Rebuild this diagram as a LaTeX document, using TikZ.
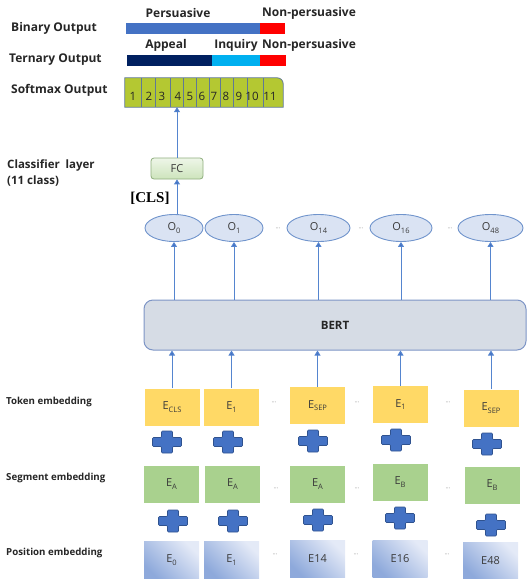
\documentclass[tikz,border=0pt]{standalone}
\usepackage{fontspec}
\setmainfont{Open Sans}
\newfontfamily\clsfont{Liberation Serif}
\usetikzlibrary{arrows.meta,shapes.geometric}

\definecolor{txt}{HTML}{262626}
\definecolor{boxtxt}{HTML}{3A3A3A}
\definecolor{barblue}{HTML}{4472C4}
\definecolor{barred}{HTML}{FF0000}
\definecolor{barnavy}{HTML}{002060}
\definecolor{barsky}{HTML}{00B0F0}
\definecolor{smfill}{HTML}{B4C832}
\definecolor{smline}{HTML}{5F7896}
\definecolor{arrowc}{HTML}{5585CF}
\definecolor{fctop}{HTML}{EEF6E8}
\definecolor{fcbot}{HTML}{CDE4BC}
\definecolor{fcline}{HTML}{8FAE7D}
\definecolor{ofill}{HTML}{DAE3F3}
\definecolor{oline}{HTML}{7094CC}
\definecolor{bertfill}{HTML}{D6DCE5}
\definecolor{bertline}{HTML}{7D95C6}
\definecolor{tokfill}{HTML}{FFD966}
\definecolor{segfill}{HTML}{A9D18E}
\definecolor{posdark}{HTML}{8EA9DB}
\definecolor{poslight}{HTML}{E4EAF7}
\definecolor{plusfill}{HTML}{4472C4}
\definecolor{plusline}{HTML}{2F528F}

\newcommand\lowsub[1]{\raisebox{-0.4ex}{\fontsize{7.5}{7.5}\selectfont #1}}

\tikzset{
  lbl/.style={anchor=west, inner sep=0pt, text=txt, font=\bfseries\fontsize{9.7}{11}\selectfont, align=left},
  biglbl/.style={anchor=west, inner sep=0pt, text=txt, font=\bfseries\fontsize{12}{16}\selectfont, align=left},
  toplbl/.style={inner sep=0pt, text=txt, font=\bfseries\fontsize{12}{14}\selectfont},
  arr/.style={draw=arrowc, line width=0.9pt, -{Triangle[width=6pt,length=5pt,fill=barblue]}},
  emb/.style={minimum width=55pt, minimum height=37pt, inner sep=0pt, text=boxtxt, font=\fontsize{11}{12}\selectfont},
  tokbox/.style={emb, fill=tokfill},
  segbox/.style={emb, fill=segfill},
  posbox/.style={emb, left color=posdark, right color=poslight, shading angle=135},
  outell/.style={ellipse, draw=oline, line width=0.9pt, fill=ofill, minimum height=27pt, inner sep=0pt, text=boxtxt, font=\fontsize{11}{12}\selectfont},
  gap/.style={inner sep=0pt, text=gray, font=\fontsize{6}{6}\selectfont},
  plussign/.pic={
    \draw[fill=plusfill, draw=plusline, line width=0.6pt, rounded corners=1pt]
      (-5.5,-11) -- (5.5,-11) -- (5.5,-4.5) -- (14.5,-4.5) -- (14.5,4.5) -- (5.5,4.5)
      -- (5.5,11) -- (-5.5,11) -- (-5.5,4.5) -- (-14.5,4.5) -- (-14.5,-4.5) -- (-5.5,-4.5) -- cycle;
  }
}

\begin{document}
\begin{tikzpicture}[x=1pt, y=-1pt]
\useasboundingbox (0,0) rectangle (527,579);

% ---- output bars ----
\node[toplbl] (lpers) at (178,13) {Persuasive};
\node[toplbl, anchor=west] (lnp1) at (262,13) {Non-persuasive};
\node[biglbl] (lbin) at (11,28) {Binary Output};
\fill[barblue] (126,23) rectangle (260,34);
\fill[barred] (260,23) rectangle (285,34);

\node[toplbl] (lapp) at (166,45) {Appeal};
\node[toplbl] (linq) at (236,45) {Inquiry};
\node[toplbl, anchor=west] (lnp2) at (262,45) {Non-persuasive};
\node[biglbl] (lter) at (9,60) {Ternary Output};
\fill[barnavy] (127,55) rectangle (212,66);
\fill[barsky] (212,55) rectangle (260,66);
\fill[barred] (260,55) rectangle (286,66);

% ---- softmax ----
\node[biglbl] (lsm) at (11,90) {Softmax Output};
\node[minimum width=158pt, minimum height=29pt, inner sep=0pt] (sm) at (204,92.5) {};
\draw[smline, fill=smfill, line width=0.8pt]
  (sm.south west) -- (sm.north west) [rounded corners=6pt] -- (sm.north east) [sharp corners] -- (sm.south east) -- cycle;
\foreach \xx in {141,155,170,183,196,209,220,233,247,263}
  \draw[smline, line width=0.7pt] (\xx,78) -- (\xx,107);
\foreach \xx/\nn in {133/1,149/2,162/3,178/4,190/5,202/6,214/7,226/8,239/9,252/10,270/11}
  \node[inner sep=0pt, text=txt, font=\fontsize{11.5}{12}\selectfont] at (\xx,96) {\nn};

% ---- classifier ----
\node[biglbl, font=\bfseries\fontsize{11.5}{16}\selectfont] (lcls) at (7,173) {Classifier\enspace layer\\(11 class)};
\node[draw=fcline, line width=0.8pt, rounded corners=3pt, top color=fctop, bottom color=fcbot,
      minimum width=52pt, minimum height=21pt, inner sep=0pt, text=boxtxt,
      font=\fontsize{11}{12}\selectfont] (fc) at (177,168.5) {FC};
\node[inner sep=0pt, font=\clsfont\bfseries\fontsize{15}{16}\selectfont] (cls) at (150,198) {[CLS]};

% ---- output tokens ----
\node[outell, minimum width=58pt] (o0)  at (174,228) {O\lowsub{0}};
\node[outell, minimum width=58pt] (o1)  at (234,228) {O\lowsub{1}};
\node[outell, minimum width=63pt] (o14) at (318.5,228) {O\lowsub{14}};
\node[outell, minimum width=62pt] (o16) at (401,228) {O\lowsub{16}};
\node[outell, minimum width=65pt] (o48) at (490.5,228) {O\lowsub{48}};
\node[gap] at (278,229) {···};
\node[gap] at (361,229) {···};
\node[gap] at (450,229) {···};

% ---- encoder ----
\node[draw=bertline, fill=bertfill, line width=1pt, rounded corners=9pt,
      minimum width=382pt, minimum height=50pt, inner sep=0pt, text=txt,
      font=\bfseries\fontsize{11.5}{12}\selectfont] (bert) at (335,325) {BERT};

% ---- token embeddings ----
\node[lbl] (ltok) at (6,402) {Token embedding};
\node[tokbox] (t1) at (172,407)   {E\lowsub{CLS}};
\node[tokbox] (t2) at (231.5,407) {E\lowsub{1}};
\node[tokbox] (t3) at (317.5,405.5) {E\lowsub{SEP}};
\node[tokbox] (t4) at (400.5,404.5) {E\lowsub{1}};
\node[tokbox] (t5) at (491,408)   {E\lowsub{SEP}};
\node[gap] at (274,403) {···};
\node[gap] at (357,403) {···};
\node[gap] at (448,403) {···};

\foreach \px/\py in {167/442, 228/442, 313/441, 396/440, 487/444}
  \pic at (\px,\py) {plussign};

% ---- segment embeddings ----
\node[lbl] (lseg) at (6,478) {Segment embedding};
\node[segbox] (s1) at (171.5,484) {E\lowsub{A}};
\node[segbox] (s2) at (232.5,484) {E\lowsub{A}};
\node[segbox] (s3) at (317.5,484) {E\lowsub{A}};
\node[segbox] (s4) at (400,482)   {E\lowsub{B}};
\node[segbox] (s5) at (492,485)   {E\lowsub{B}};
\node[gap] at (276,489) {···};
\node[gap] at (357,489) {···};
\node[gap] at (448,489) {···};

\foreach \px/\py in {173/521, 233/521, 318/520, 400/518, 491/525}
  \pic at (\px,\py) {plussign};

% ---- position embeddings ----
\node[lbl] (lpos) at (6,553) {Position embedding};
\node[posbox] (p1) at (171.5,560) {E\lowsub{0}};
\node[posbox] (p2) at (231.5,560) {E\lowsub{1}};
\node[posbox] (p3) at (317.5,559) {E14};
\node[posbox] (p4) at (400,558.5) {E16};
\node[posbox] (p5) at (490.5,561) {E48};
\node[gap] at (275,555) {···};
\node[gap] at (356,555) {···};
\node[gap] at (447,555) {···};

% ---- connectors ----
\draw[arr] (fc.north) -- (fc.north |- sm.south);
\draw[arr] (fc.south |- o0.north) -- (fc.south);
\foreach \o in {o0,o1,o14,o16,o48}
  \draw[arr] (\o.south |- bert.north) -- (\o.south);
\foreach \t in {t1,t2,t3,t4,t5}
  \draw[arr] (\t.north) -- (\t.north |- bert.south);
\end{tikzpicture}
\end{document}
